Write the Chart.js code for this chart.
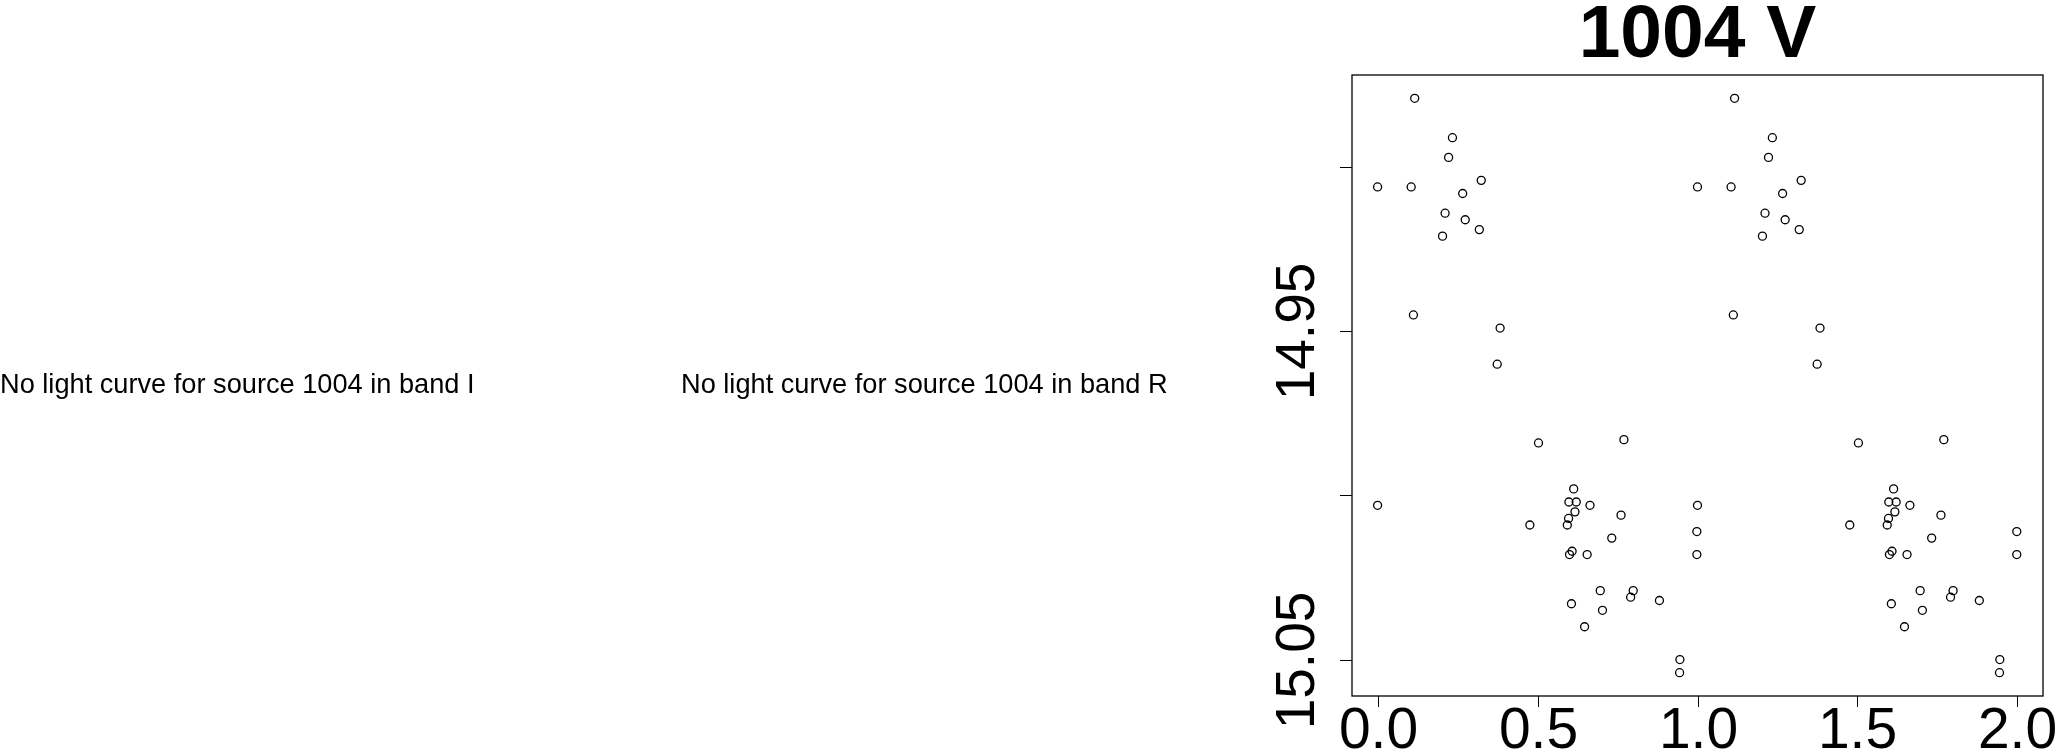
<!DOCTYPE html>
<html>
<head>
<meta charset="utf-8">
<title>1004 V</title>
<script src="https://cdn.jsdelivr.net/npm/chart.js@4"></script>
<style>
    body { margin: 0; background: #fff; }
    #wrap { position: relative; width: 2058px; height: 753px; }
    .note {
        position: absolute;
        top: 370px;
        font-family: "Liberation Sans", Arial, sans-serif;
        font-size: 27.2px;
        line-height: 27px;
        white-space: nowrap;
        color: #000;
    }
</style>
</head>
<body>
<div id="wrap">
    <div class="note" style="left:0px">No light curve for source 1004 in band I</div>
    <div class="note" style="left:681px">No light curve for source 1004 in band R</div>
    <canvas id="lcChart" width="2058" height="753"></canvas>
</div>
<script>
// Faze un zvaigžņlielums (V josla), viens periods
const phase = [
    0.000, 0.105, 0.116, 0.112, 0.203, 0.211, 0.222, 0.234, 0.266, 0.274,
    0.318, 0.324, 0.374, 0.383, 0.476, 0.503, 0.593, 0.597, 0.598, 0.600,
    0.606, 0.608, 0.613, 0.617, 0.621, 0.647, 0.655, 0.664, 0.696, 0.703,
    0.732, 0.761, 0.770, 0.791, 0.799, 0.881, 0.944, 0.945, 0.000, 0.998,
    0.998
];
const mag = [
    14.906, 14.906, 14.879, 14.945, 14.921, 14.914, 14.897, 14.891, 14.908, 14.916,
    14.919, 14.904, 14.960, 14.949, 15.009, 14.984, 15.009, 15.007, 15.002, 15.018,
    15.033, 15.017, 14.998, 15.005, 15.002, 15.040, 15.018, 15.003, 15.029, 15.035,
    15.013, 15.006, 14.983, 15.031, 15.029, 15.032, 15.054, 15.050, 15.003, 15.011,
    15.018
];

const xTicks = [0, 0.5, 1, 1.5, 2];
const xTickLabels = ['0.0', '0.5', '1.0', '1.5', '2.0'];
const yTicks = [14.90, 14.95, 15.00, 15.05];
const yTickLabels = ['', '14.95', '', '15.05'];
const title = '1004 V';

// divi periodi pēc kārtas (fāze un fāze + 1)
const points = [];
phase.forEach((p, i) => points.push({ x: p, y: mag[i] }));
phase.forEach((p, i) => points.push({ x: p + 1, y: mag[i] }));

// R stila rāmis, asis un virsraksts
const rAxes = {
    id: 'rAxes',
    afterDraw(chart) {
        const ctx = chart.ctx;
        const a = chart.chartArea;
        const xs = chart.scales.x;
        const ys = chart.scales.y;
        ctx.save();
        ctx.strokeStyle = '#000';
        ctx.fillStyle = '#000';

        ctx.lineWidth = 1.3;
        ctx.strokeRect(a.left, a.top, a.right - a.left, a.bottom - a.top);

        ctx.lineWidth = 1;
        ctx.font = '57px "Liberation Sans", Arial, sans-serif';
        ctx.textAlign = 'center';
        ctx.textBaseline = 'alphabetic';
        xTicks.forEach((v, i) => {
            const px = Math.round(xs.getPixelForValue(v)) + 0.5;
            ctx.beginPath();
            ctx.moveTo(px, a.bottom);
            ctx.lineTo(px, a.bottom + 11);
            ctx.stroke();
            ctx.fillText(xTickLabels[i], px, 748);
        });

        yTicks.forEach((v, i) => {
            const py = Math.round(ys.getPixelForValue(v)) + 0.5;
            ctx.beginPath();
            ctx.moveTo(a.left, py);
            ctx.lineTo(a.left - 12, py);
            ctx.stroke();
            if (yTickLabels[i]) {
                ctx.save();
                ctx.translate(1314, py);
                ctx.rotate(-Math.PI / 2);
                ctx.font = '55px "Liberation Sans", Arial, sans-serif';
                ctx.fillText(yTickLabels[i], 0, 0);
                ctx.restore();
            }
        });

        ctx.font = 'bold 75px "Liberation Sans", Arial, sans-serif';
        ctx.fillText(title, (a.left + a.right) / 2, 57);
        ctx.restore();
    }
};

const ctx = document.getElementById('lcChart').getContext('2d');
new Chart(ctx, {
    type: 'scatter',
    data: {
        datasets: [{
            label: 'V',
            data: points,
            pointStyle: 'circle',
            pointRadius: 4,
            pointBorderWidth: 1.3,
            borderColor: '#000',
            backgroundColor: 'rgba(0,0,0,0)'
        }]
    },
    options: {
        responsive: false,
        animation: false,
        devicePixelRatio: 1,
        layout: {
            padding: { left: 1352, top: 75, right: 15, bottom: 57 }
        },
        scales: {
            x: { type: 'linear', min: -0.08, max: 2.08, display: false },
            y: { type: 'linear', min: 14.8719, max: 15.0611, reverse: true, display: false }
        },
        plugins: {
            legend: { display: false },
            tooltip: { enabled: false },
            title: { display: false }
        }
    },
    plugins: [rAxes]
});
</script>
</body>
</html>
